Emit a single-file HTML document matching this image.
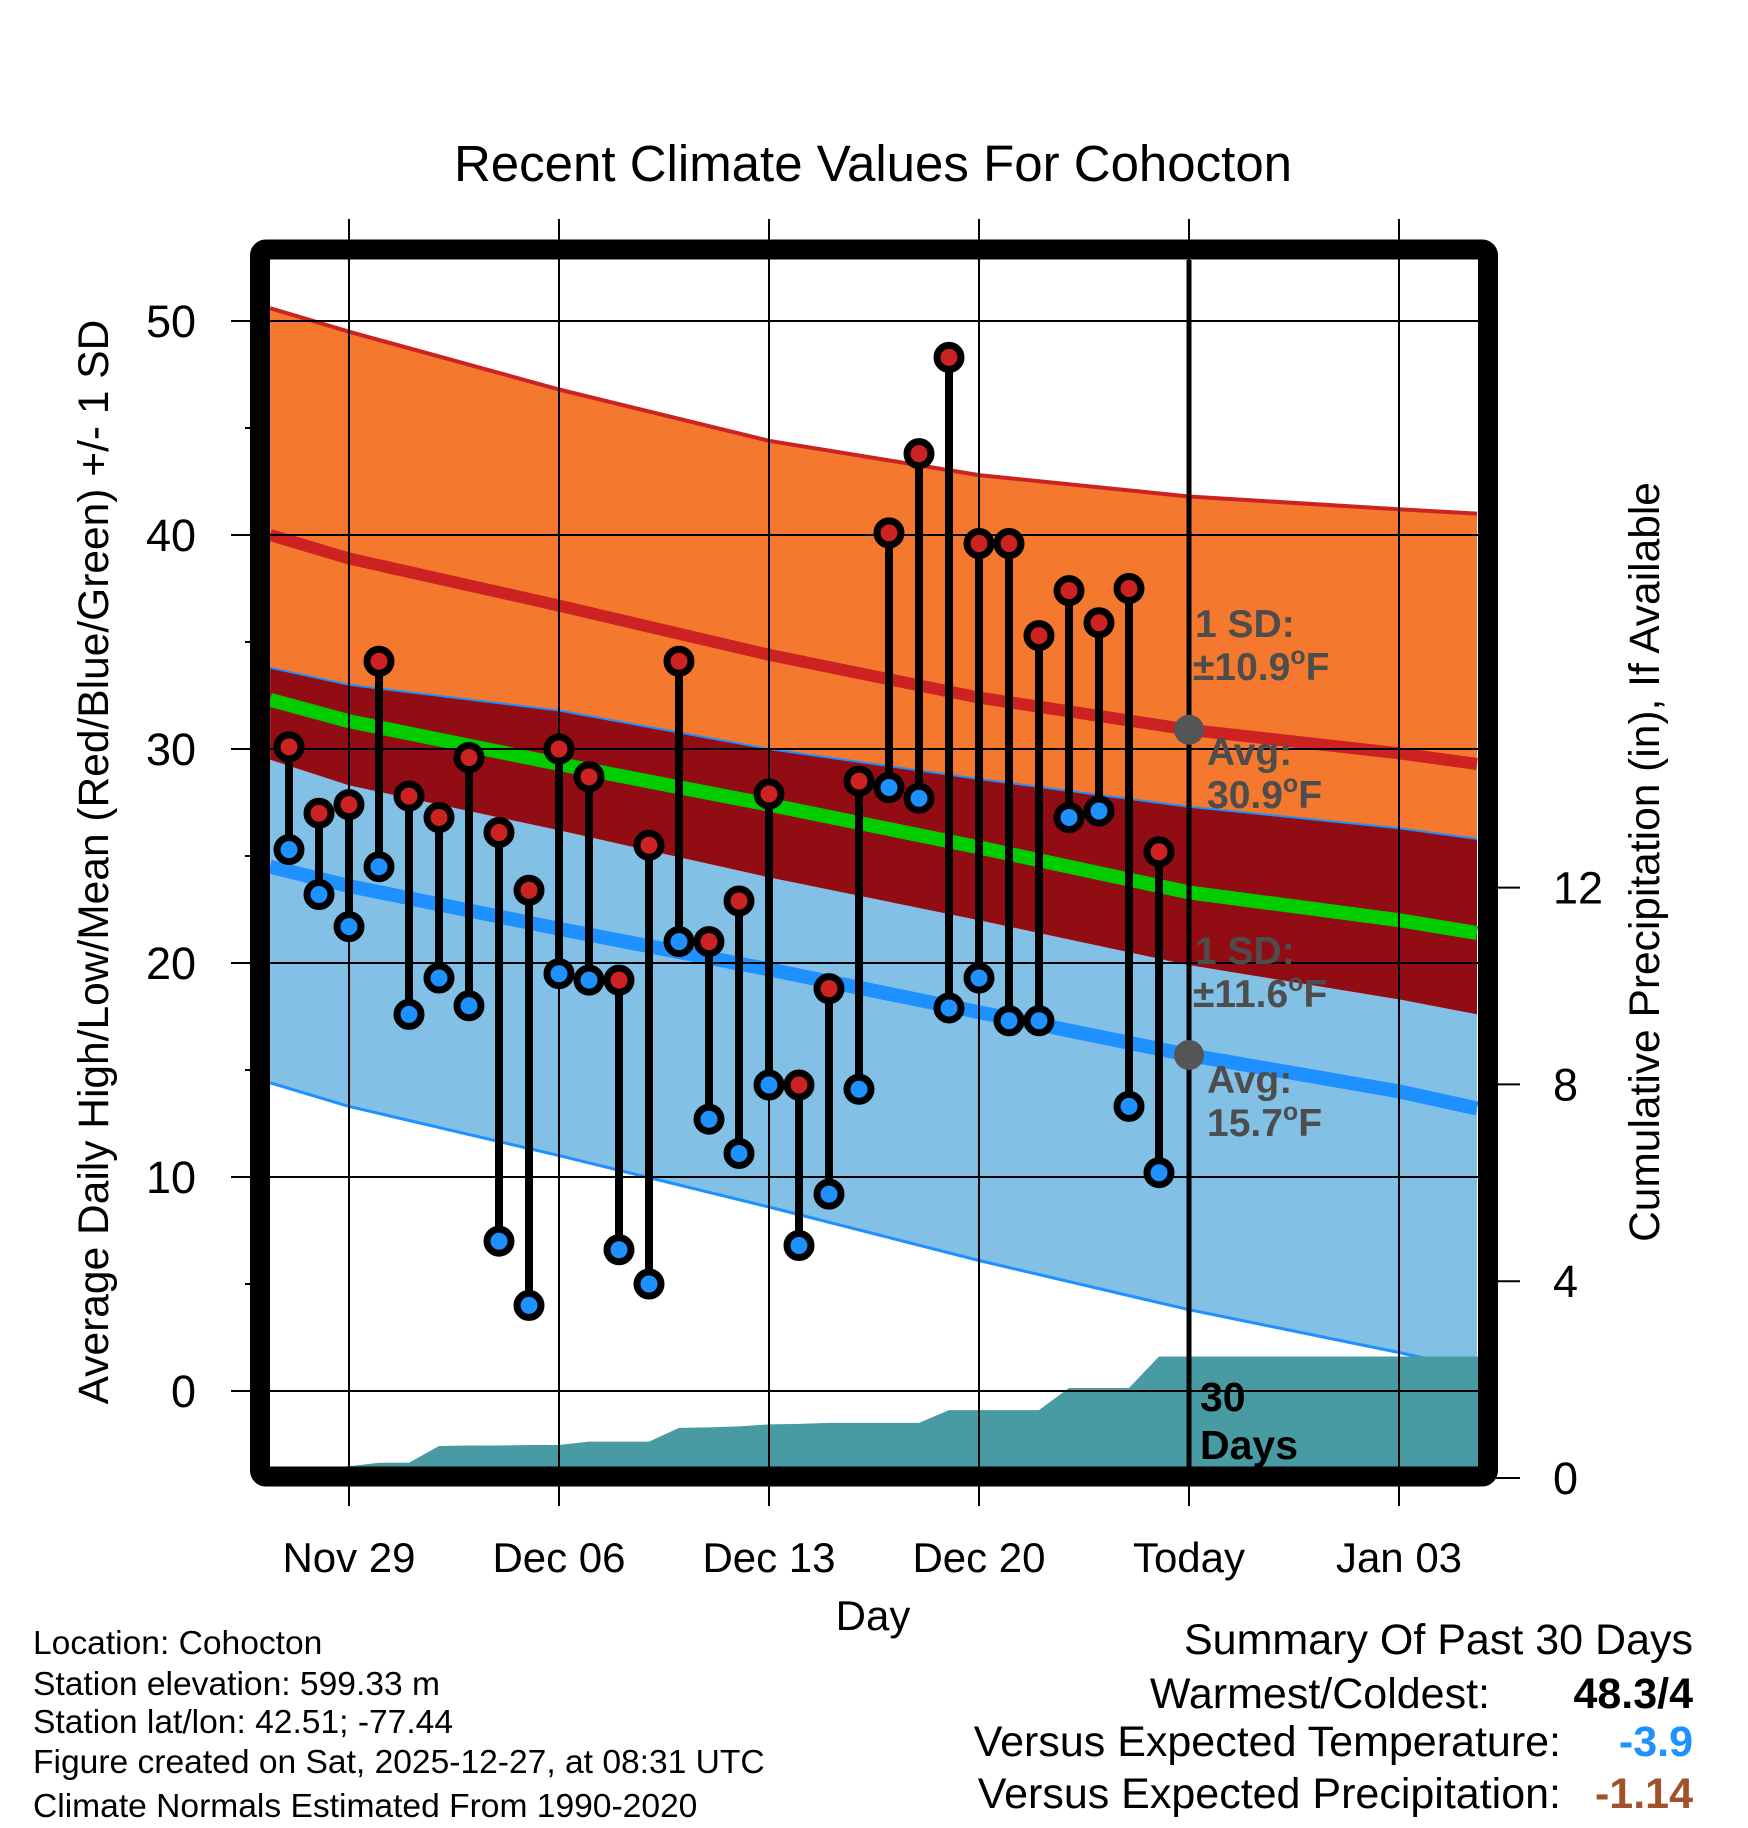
<!DOCTYPE html>
<html><head><meta charset="utf-8"><style>
html,body{margin:0;padding:0;background:#fff;}
svg{display:block;font-family:"Liberation Sans",Arial,sans-serif;}
</style></head><body>
<svg id="chart" width="1748" height="1828" viewBox="0 0 1748 1828" xmlns="http://www.w3.org/2000/svg">
<g id="bands"></g><g id="grid"></g><g id="marks"></g><g id="frame"></g><g id="labels"></g>
</svg>
<script>
// ---- data ----
const dayLabels = ["Nov 29","Dec 06","Dec 13","Dec 20","Today","Jan 03"];
const dayTicks = [0,7,14,21,28,35];
const obsDays = [-2,-1,0,1,2,3,4,5,6,7,8,9,10,11,12,13,14,15,16,17,18,19,20,21,22,23,24,25,26,27];
const highs = [30.1,27.0,27.4,34.1,27.8,26.8,29.6,26.1,23.4,30.0,28.7,19.2,25.5,34.1,21.0,22.9,27.9,14.3,18.8,28.5,40.1,43.8,48.3,39.6,39.6,35.3,37.4,35.9,37.5,25.2];
const lows = [25.3,23.2,21.7,24.5,17.6,19.3,18.0,7.0,4.0,19.5,19.2,6.6,5.0,21.0,12.7,11.1,14.3,6.8,9.2,14.1,28.2,27.7,17.9,19.3,17.3,17.3,26.8,27.1,13.3,10.2];
const normDays = [-2.63,0,7,14,21,28,35,37.6];
const highUpper = [50.6,49.5,46.8,44.4,42.8,41.8,41.2,41.0];
const highAvg = [40.0,38.9,36.7,34.4,32.4,30.9,29.8,29.3];
const highLower = [33.8,33.0,31.8,30.0,28.6,27.3,26.3,25.8];
const meanAvg = [32.3,31.3,29.3,27.4,25.4,23.3,22.0,21.4];
const lowUpper = [29.5,28.3,26.2,24.0,22.0,19.9,18.3,17.6];
const lowAvg = [24.5,23.6,21.6,19.7,17.7,15.7,14.0,13.2];
const lowLower = [14.4,13.3,11.0,8.6,6.1,3.8,1.8,1.0];
const precip = [0.2,0.2,0.24,0.31,0.31,0.65,0.66,0.66,0.67,0.67,0.74,0.74,0.74,1.02,1.03,1.05,1.09,1.10,1.12,1.12,1.12,1.12,1.38,1.38,1.38,1.38,1.83,1.83,1.83,2.47];
const yTicks = [0,10,20,30,40,50];
const pTicks = [0,4,8,12];

// ---- scales ----
const X = d => 349 + 30*d;
const Y = v => 1391 - 21.4*v;
const P = v => 1478 - 49.2*v;
const L = 270, R = 1478, T = 260, B = 1467;
const NS = "http://www.w3.org/2000/svg";
function mk(tag, parent, attrs){const e=document.createElementNS(NS,tag);for(const k in attrs)e.setAttribute(k,attrs[k]);parent.appendChild(e);return e;}
const bands=document.getElementById('bands'),grid=document.getElementById('grid'),marks=document.getElementById('marks'),frame=document.getElementById('frame'),labels=document.getElementById('labels');
const pts = arr => arr.map((v,i)=>X(normDays[i]).toFixed(1)+","+Y(v).toFixed(1));
function band(a,b,fill,name){const p=pts(a).concat(pts(b).reverse()).join(" ");const e=mk('polygon',bands,{points:p,fill:fill});

}
function line(a,col,w,name){const e=mk('polyline',bands,{points:pts(a).join(" "),fill:'none',stroke:col,'stroke-width':w,'stroke-linejoin':'round'});

}
band(highUpper,highLower,'#f4782d','high-sd-band');
band(lowUpper,lowLower,'#82c0e6','low-sd-band');
band(highLower,lowUpper,'#920c13','overlap-band');
line(highUpper,'#cc2222',4,'high-upper-line');
line(highAvg,'#cc2222',12,'avg-high-line');
line(highLower,'#1e90ff',2,'high-lower-line');
line(meanAvg,'#00cc00',14,'avg-mean-line');
line(lowAvg,'#1e90ff',14,'avg-low-line');
line(lowLower,'#1e90ff',3,'low-lower-line');
// precip area
{let p=[X(obsDays[0])+","+P(0)];obsDays.forEach((d,i)=>p.push(X(d)+","+P(precip[i])));p.push(R+","+P(precip[precip.length-1]));p.push(R+","+P(0));
const e=mk('polygon',bands,{points:p.join(" "),fill:'#489ba3'});

}
mk('rect',bands,{x:L-30,y:B,width:R-L+60,height:30,fill:'#fff'});
mk('rect',bands,{x:L-40,y:T-5,width:40,height:B-T+10,fill:'#fff'});
// grid
yTicks.forEach(v=>{const e=mk('line',grid,{x1:231,x2:R,y1:Y(v),y2:Y(v),stroke:'#000','stroke-width':2});


const t=mk('text',labels,{x:196,y:Y(v)+16,'text-anchor':'end','font-size':45});t.textContent=v;

});
for(let v=5;v<=50;v+=10){mk('line',grid,{x1:245,x2:258,y1:Y(v),y2:Y(v),stroke:'#000','stroke-width':2});}
dayTicks.forEach((d,i)=>{const e=mk('line',grid,{x1:X(d),x2:X(d),y1:219,y2:1506,stroke:'#000','stroke-width':2});


const t=mk('text',labels,{x:X(d),y:1572,'text-anchor':'middle','font-size':42});t.textContent=dayLabels[i];

});
pTicks.forEach(v=>{mk('line',grid,{x1:1496,x2:1520,y1:P(v),y2:P(v),stroke:'#000','stroke-width':2});
const t=mk('text',labels,{x:1553,y:P(v)+16,'font-size':45});t.textContent=v;

});
// today line
{const e=mk('line',marks,{x1:X(28),x2:X(28),y1:T,y2:B,stroke:'#000','stroke-width':5});

}
obsDays.forEach((d,i)=>{const e=mk('line',marks,{x1:X(d),x2:X(d),y1:Y(highs[i]),y2:Y(lows[i]),stroke:'#000','stroke-width':8});

});
obsDays.forEach((d,i)=>{
const h=mk('circle',marks,{cx:X(d),cy:Y(highs[i]),r:12,fill:'#cc2222',stroke:'#000','stroke-width':7});


const l=mk('circle',marks,{cx:X(d),cy:Y(lows[i]),r:12,fill:'#1e90ff',stroke:'#000','stroke-width':7});

});
{const a=mk('circle',marks,{cx:X(28),cy:Y(highAvg[5]),r:15,fill:'#555'});


const b=mk('circle',marks,{cx:X(28),cy:Y(lowAvg[5]),r:15,fill:'#555'});

}
{const e=mk('rect',frame,{x:260,y:249.5,width:1228,height:1227,fill:'none',stroke:'#000','stroke-width':20,rx:6});

}
</script>
<svg style="position:absolute;left:0;top:0" width="1748" height="1828" xmlns="http://www.w3.org/2000/svg" font-family="Liberation Sans, Arial, sans-serif">
<text x="873" y="181" text-anchor="middle" font-size="51">Recent Climate Values For Cohocton</text>
<g font-weight="bold" font-size="39" fill="#4d4d4d">
<text x="1195" y="637">1 SD:</text>
<text x="1193" y="680">±10.9<tspan font-size="25" dy="-16">o</tspan><tspan dy="16">F</tspan></text>
<text x="1207" y="765">Avg:</text>
<text x="1207" y="808">30.9<tspan font-size="25" dy="-16">o</tspan><tspan dy="16">F</tspan></text>
<text x="1195" y="964">1 SD:</text>
<text x="1193" y="1007">±11.6<tspan font-size="25" dy="-16">o</tspan><tspan dy="16">F</tspan></text>
<text x="1207" y="1093">Avg:</text>
<text x="1207" y="1136">15.7<tspan font-size="25" dy="-16">o</tspan><tspan dy="16">F</tspan></text>
</g>
<g font-weight="bold" font-size="41" fill="#000">
<text x="1200" y="1411">30</text>
<text x="1200" y="1459">Days</text>
</g>
<text x="873" y="1630" text-anchor="middle" font-size="42">Day</text>
<text transform="translate(108,862) rotate(-90)" text-anchor="middle" font-size="42.5">Average Daily High/Low/Mean (Red/Blue/Green) +/- 1 SD</text>
<text transform="translate(1659,862) rotate(-90)" text-anchor="middle" font-size="42.5">Cumulative Precipitation (in), If Available</text>
<g font-size="33.6">
<text x="33" y="1654">Location: Cohocton</text>
<text x="33" y="1695">Station elevation: 599.33 m</text>
<text x="33" y="1733">Station lat/lon: 42.51; -77.44</text>
<text x="33" y="1773">Figure created on Sat, 2025-12-27, at 08:31 UTC</text>
<text x="33" y="1817">Climate Normals Estimated From 1990-2020</text>
</g>
<g font-size="43">
<text x="1693" y="1654" text-anchor="end">Summary Of Past 30 Days</text>
<text x="1490" y="1708" text-anchor="end">Warmest/Coldest:</text>
<text x="1693" y="1708" text-anchor="end" font-weight="bold">48.3/4</text>
<text x="1561" y="1756" text-anchor="end">Versus Expected Temperature:</text>
<text x="1693" y="1756" text-anchor="end" font-weight="bold" fill="#1e90ff">-3.9</text>
<text x="1561" y="1808" text-anchor="end">Versus Expected Precipitation:</text>
<text x="1693" y="1808" text-anchor="end" font-weight="bold" fill="#a0522d">-1.14</text>
</g>
</svg>
</body></html>
